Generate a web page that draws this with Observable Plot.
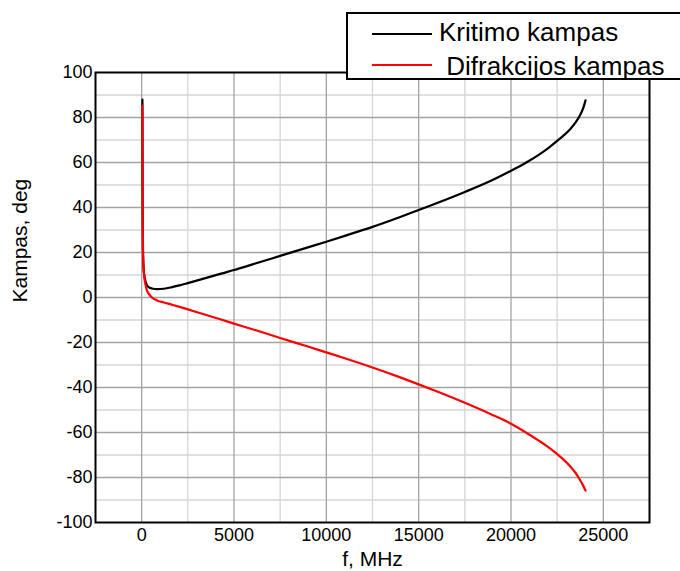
<!DOCTYPE html>
<html>
<head>
<meta charset="utf-8">
<script src="https://cdn.jsdelivr.net/npm/d3@7"></script>
<script src="https://cdn.jsdelivr.net/npm/@observablehq/plot@0.6"></script>
<style>
  html, body { margin: 0; padding: 0; background: white; }
  #wrap { position: relative; width: 680px; height: 571px; font-family: "Liberation Sans", Arial, sans-serif; }
  #legend { position: absolute; left: 346px; top: 12px; width: 345px; height: 68px; border: 2px solid black; background: white; box-sizing: border-box; }
  .lg-line { position: absolute; height: 0; width: 60px; }
  .lg-text { position: absolute; font-size: 26px; line-height: 26px; white-space: pre; color: black; }
</style>
</head>
<body>
<div id="wrap"></div>
<script>
// Frequency samples (MHz)
const freq = [40, 45, 50, 58, 70, 100, 150, 200, 290, 380, 560, 830, 1200, 1640, 2100, 2500, 3500, 4300, 5000, 6000, 7500, 9000, 10000, 11000, 12500, 14000, 15000, 16000, 17500, 19000, 20000, 20850, 21500, 22000, 22500, 23200, 23500, 23730, 23900, 24036];
// Kritimo kampas (deg)
const kritimo = [88, 70, 50, 35, 22, 14, 9.5, 7.4, 5.4, 4.6, 4.0, 3.7, 3.9, 4.6, 5.5, 6.4, 8.7, 10.6, 12.2, 14.7, 18.5, 22.3, 24.8, 27.4, 31.4, 35.8, 38.9, 42.0, 46.9, 52.2, 56.3, 60.1, 63.4, 66.3, 69.6, 74.8, 77.8, 80.9, 83.9, 87.6];
// Difrakcijos kampas (deg)
const difrakcijos = [85.3, 66, 47, 33, 21, 13, 8.5, 6.0, 3.1, 1.7, 0, -1.3, -2.2, -3.2, -4.3, -5.3, -7.8, -9.8, -11.6, -14.1, -18.0, -21.8, -24.4, -27.0, -31.1, -35.5, -38.6, -41.8, -46.8, -52.2, -56.1, -60.2, -63.6, -66.4, -69.6, -75.0, -78.0, -81.0, -83.5, -85.8];

const seriesNames = ["Kritimo kampas", " Difrakcijos kampas"];
const xTicks = [0, 5000, 10000, 15000, 20000, 25000];
const xMinor = [2500, 7500, 12500, 17500, 22500];
const yTicks = [-100, -80, -60, -40, -20, 0, 20, 40, 60, 80, 100];
const yMajor = [-80, -60, -40, -20, 0, 20, 40, 60, 80];
const yMinor = [-90, -70, -50, -30, -10, 10, 30, 50, 70, 90];
const xLabel = "f, MHz";
const yLabel = "Kampas, deg";

const dataK = freq.map((f, i) => ({f, v: kritimo[i]}));
const dataD = freq.map((f, i) => ({f, v: difrakcijos[i]}));

const chart = Plot.plot({
  width: 680,
  height: 571,
  marginLeft: 95,
  marginRight: 31,
  marginTop: 72,
  marginBottom: 49,
  x: {domain: [-2500, 27500]},
  y: {domain: [-100, 100]},
  style: {fontFamily: "'Liberation Sans', Arial, sans-serif", fontSize: "18px", color: "black", background: "white"},
  marks: [
    Plot.ruleX(xMinor, {stroke: "#d6d6d6", strokeWidth: 1.3}),
    Plot.ruleY(yMinor, {stroke: "#d6d6d6", strokeWidth: 1.3}),
    Plot.ruleX(xTicks, {stroke: "#a3a3a3", strokeWidth: 1.3}),
    Plot.ruleY(yMajor, {stroke: "#a3a3a3", strokeWidth: 1.3}),
    Plot.axisX({ticks: xTicks, tickSize: 0, tickPadding: 6, label: null, tickFormat: d => String(d), fontSize: 18}),
    Plot.axisY({ticks: yTicks, tickSize: 0, tickPadding: 3, label: null, tickFormat: d => String(d), fontSize: 18}),
    Plot.line(dataK, {x: "f", y: "v", stroke: "black", strokeWidth: 2.2, curve: "monotone-x"}),
    Plot.line(dataD, {x: "f", y: "v", stroke: "#ff0000", strokeWidth: 2.2, curve: "monotone-x"}),
    Plot.frame({stroke: "black", strokeWidth: 2}),
    Plot.text([xLabel], {text: d => d, frameAnchor: "bottom", dy: 43, fontSize: 21, fill: "black"}),
    Plot.text([yLabel], {text: d => d, frameAnchor: "left", dx: -75, dy: 5, rotate: -90, fontSize: 21, fill: "black"})
  ]
});

const wrap = document.getElementById("wrap");
wrap.appendChild(chart);

// Legend overlay (top right, over the frame)
const legend = document.createElement("div");
legend.id = "legend";
const colors = ["black", "#ff0000"];
const lineY = [19, 50];   // relative to legend box
const textTop = [5, 39];
const textLeft = [91, 91];
seriesNames.forEach((name, i) => {
  const ln = document.createElement("div");
  ln.className = "lg-line";
  ln.style.left = "24px";
  ln.style.top = lineY[i] + "px";
  ln.style.borderTop = "2px solid " + colors[i];
  legend.appendChild(ln);
  const tx = document.createElement("div");
  tx.className = "lg-text";
  tx.style.left = textLeft[i] + "px";
  tx.style.top = textTop[i] + "px";
  tx.textContent = name;
  legend.appendChild(tx);
});
wrap.appendChild(legend);
</script>
</body>
</html>
